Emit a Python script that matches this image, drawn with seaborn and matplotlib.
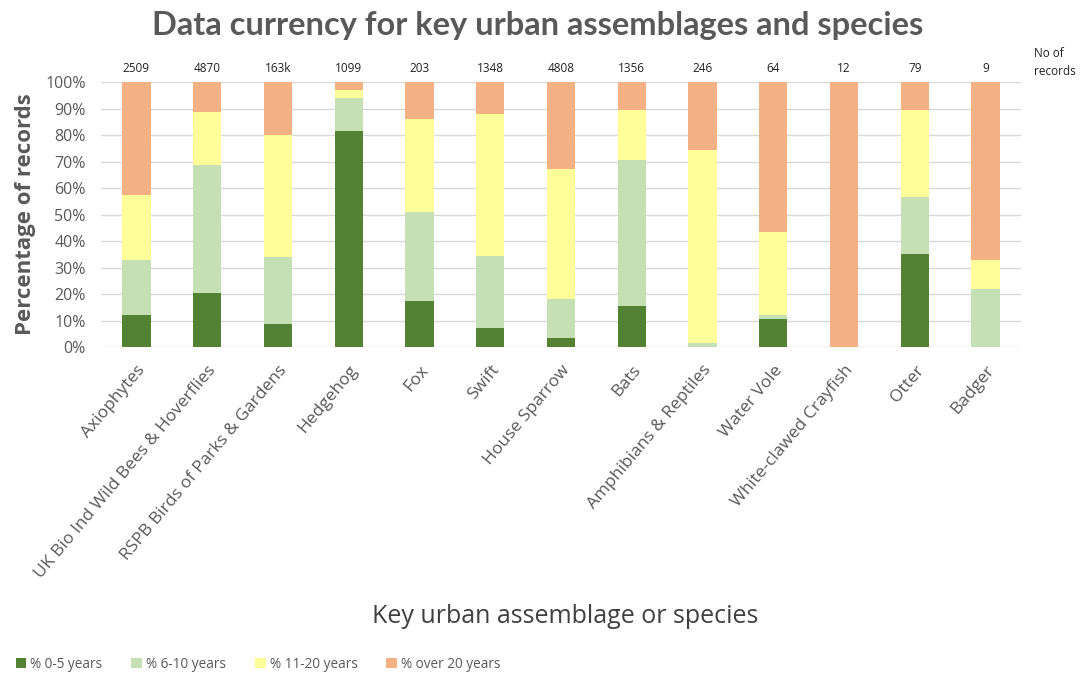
import matplotlib
matplotlib.use("Agg")
import matplotlib.pyplot as plt
import seaborn as sns
import pandas as pd
import numpy as np
from matplotlib.patches import Patch

categories = ["Axiophytes", "UK Bio Ind Wild Bees & Hoverflies", "RSPB Birds of Parks & Gardens",
              "Hedgehog", "Fox", "Swift", "House Sparrow", "Bats", "Amphibians & Reptiles",
              "Water Vole", "White-clawed Crayfish", "Otter", "Badger"]
record_counts = ["2509", "4870", "163k", "1099", "203", "1348", "4808", "1356", "246", "64", "12", "79", "9"]
pct_0_5 = [12, 20.5, 8.7, 81.5, 17.5, 7, 3.5, 15.5, 0, 10.5, 0, 35, 0]
pct_6_10 = [21, 48, 25.3, 12.5, 33.5, 27.5, 14.5, 55, 1.5, 1.5, 0, 21.5, 22]
pct_11_20 = [24.5, 20, 46, 3, 35, 53.5, 49, 19, 73, 31.5, 0, 33, 11]
pct_over_20 = [42.5, 11.5, 20, 3, 14, 12, 33, 10.5, 25.5, 56.5, 100, 10.5, 67]

series_names = ["% 0-5 years", "% 6-10 years", "% 11-20 years", "% over 20 years"]
colors = ["#548235", "#C5E0B4", "#FFFF99", "#F4B183"]

sns.set_theme(style="white")
plt.rcParams['font.family'] = ['Open Sans', 'DejaVu Sans']

fig = plt.figure(figsize=(10.91, 6.75), dpi=100)
ax = fig.add_axes([0.0926, 0.4859, 0.8432, 0.3926])

df = pd.DataFrame({"cat": categories, "a": pct_0_5, "b": pct_6_10, "c": pct_11_20, "d": pct_over_20})
cum = np.cumsum(df[["a", "b", "c", "d"]].values, axis=1)
for i in range(3, -1, -1):
    sns.barplot(x=df["cat"], y=cum[:, i], color=colors[i], width=0.4, ax=ax,
                order=categories, saturation=1, edgecolor="none", linewidth=0, zorder=3)

ax.set_ylim(0, 100)
ax.set_xlim(-0.5, len(categories) - 0.5)
ax.set_yticks(np.arange(0, 101, 10))
ax.set_yticklabels([f"{v}%" for v in range(0, 101, 10)], fontsize=11.5, color="#595959")
ax.yaxis.grid(True, color="#D9D9D9", linewidth=1, zorder=0)
ax.set_axisbelow(True)
for s in ax.spines.values():
    s.set_visible(False)
ax.tick_params(axis="y", length=0, pad=11)
ax.tick_params(axis="x", length=0, pad=11)
ax.set_xticks(range(len(categories)))
ax.set_xticklabels(categories, rotation=50, ha="right", rotation_mode="anchor",
                   fontsize=12.5, color="#595959")
ax.set_xlabel("")
ax.set_ylabel("Percentage of records", fontsize=16, fontweight="bold", color="#595959", labelpad=7)

for i, c in enumerate(record_counts):
    ax.text(i, 102.5, c, ha="center", va="bottom", fontsize=8.5, color="#222222")
ax.text(1.014, 1.075, "No of\nrecords", transform=ax.transAxes, ha="left", va="center",
        fontsize=8.5, color="#222222", linespacing=1.5)

fig.text(0.493, 0.962, "Data currency for key urban assemblages and species", ha="center",
         va="center", fontsize=23.5, fontweight="bold", color="#595959", family=["Lato", "DejaVu Sans"])
fig.text(0.518, 0.086, "Key urban assemblage or species", ha="center", va="center",
         fontsize=18, color="#404040")

handles = [Patch(facecolor=colors[i], edgecolor="none", label=series_names[i]) for i in range(4)]
fig.legend(handles=handles, loc="center left", bbox_to_anchor=(0.003, 0.016), ncol=4,
           frameon=False, fontsize=9.8, handlelength=0.8, handleheight=0.8, handletextpad=0.3,
           columnspacing=2.1, labelcolor="#595959")

fig.savefig("out.png", dpi=100)
